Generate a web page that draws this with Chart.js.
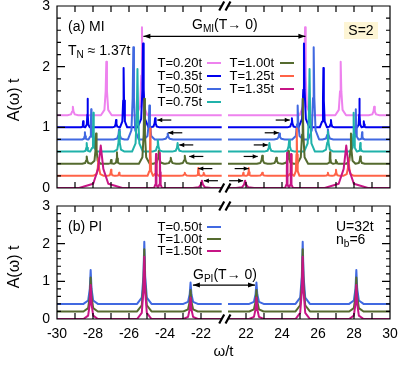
<!DOCTYPE html>
<html>
<head>
<meta charset="utf-8">
<script src="https://cdn.jsdelivr.net/npm/chart.js@4.4.0/dist/chart.umd.min.js"></script>
<style>
html, body { margin: 0; padding: 0; background: #fff; }
#wrap { position: relative; width: 412px; height: 366px; }
canvas { position: absolute; left: 0; }
#mi { top: 0; }
#pi { top: 196px; }
</style>
</head>
<body>
<div id="wrap">
<canvas id="mi" width="412" height="196"></canvas>
<canvas id="pi" width="412" height="170"></canvas>
</div>
<script>
var FONT = '"Liberation Sans", Arial, Helvetica, sans-serif';

// broken omega axis: left half -30 .. -20.85, right half 21 .. 30
var leftEnd = -20.85;
var rightStart = 21;
var xLabelsLeft = [-30, -28, -26, -24, -22];
var xLabelsRight = [22, 24, 26, 28, 30];
var yLabels = [0, 1, 2, 3];

// shape of one peak as seen in the picture (offset in foot half-widths, fraction of height)
var peakDx = [-1, -0.35, -0.12, 0, 0.12, 0.35, 1];
var peakFrac = [0, 0.1, 0.45, 1, 0.45, 0.1, 0];

// (a) MI, S=2 : spectra are symmetric, peaks given for omega > 0
var miLabels = ['T=0.20t', 'T=0.35t', 'T=0.50t', 'T=0.75t', 'T=1.00t', 'T=1.25t', 'T=1.35t'];
var miColors = ['#ee82ee', '#0000ee', '#4169e1', '#20b2aa', '#556b2f', '#ff6347', '#c71585'];
var miBase = [1.2, 1.0, 0.8, 0.6, 0.4, 0.2, 0.0];
var miPos = [
    [25.28, 27.26, 29.12],
    [24.55, 25.22, 26.3, 26.72, 28.3, 28.55],
    [23.85, 24.87, 25.76, 26.55, 28.1, 28.45],
    [23.3, 24.4, 25.53, 26.55, 27.98, 28.35],
    [22.9, 23.68, 24.35, 25.15, 26.67, 27.0, 27.83, 28.35],
    [21.85, 22.15, 22.9, 24.5, 24.82, 26.55, 27.0, 27.7],
    [21.95, 24.28, 24.5, 27.57]
];
var miTop = [
    [2.65, 2.08, 1.34],
    [1.15, 2.38, 1.98, 1.12, 1.47, 1.1],
    [0.9, 1.36, 2.32, 0.97, 1.3, 0.92],
    [0.74, 0.79, 1.96, 0.93, 1.24, 0.74],
    [0.53, 0.5, 0.61, 1.47, 0.59, 0.46, 0.9, 0.52],
    [0.25, 0.33, 0.25, 0.55, 0.98, 0.25, 0.3, 0.49],
    [0.12, 0.58, 0.56, 0.7]
];
var miWidth = [
    [0.3, 0.3, 0.3],
    [0.25, 0.3, 0.2, 0.2, 0.12, 0.12],
    [0.3, 0.3, 0.3, 0.3, 0.15, 0.15],
    [0.3, 0.3, 0.3, 0.3, 0.18, 0.18],
    [0.3, 0.3, 0.3, 0.3, 0.15, 0.15, 0.25, 0.25],
    [0.14, 0.14, 0.3, 0.15, 0.15, 0.2, 0.2, 0.3],
    [0.5, 0.11, 0.11, 1.2]
];
// small arrows marking the lowest peak of each curve (|omega| of the tip, height)
var miArrowTip = [24.43, 23.82, 23.21, 22.65, 22.15, 21.84];
var miArrowY = [1.12, 0.91, 0.71, 0.52, 0.32, 0.12];
var miGap = [-25.2, 25.3, 2.5];

// (b) PI
var piLabels = ['T=0.50t', 'T=1.00t', 'T=1.50t'];
var piColors = ['#4169e1', '#556b2f', '#c71585'];
var piBase = [0.4, 0.2, 0.0];
var piPos = [22.58, 25.15, 28.13];
var piTop = [
    [0.97, 2.05, 1.3],
    [0.77, 1.85, 1.1],
    [0.57, 1.65, 0.9]
];
var piWidth = [0.4, 0.4, 0.4];
var piGap = [-22.45, 22.5, 0.9];

var GAP = 0.35;
function toU(w) {
    if (w < 0) return w + 30;
    return w - rightStart + (leftEnd + 30) + GAP;
}
var uLeftEnd = toU(leftEnd), uRightStart = toU(rightStart), uMax = toU(30);

function addPeak(pts, base, p, top, w) {
    for (var j = 0; j < peakDx.length; j++) {
        pts.push({x: toU(p + peakDx[j] * w), y: base + (top - base) * peakFrac[j]});
    }
}

function buildLine(base, pos, top, wid) {
    var pts = [{x: toU(-30), y: base}];
    var i;
    for (i = pos.length - 1; i >= 0; i--) addPeak(pts, base, -pos[i], top[i], wid[i]);
    pts.push({x: uLeftEnd, y: base});
    pts.push({x: (uLeftEnd + uRightStart) / 2, y: null});
    pts.push({x: uRightStart, y: base});
    for (i = 0; i < pos.length; i++) addPeak(pts, base, pos[i], top[i], wid[i]);
    pts.push({x: uMax, y: base});
    return pts;
}

function makeDataset(pts, color, order) {
    return {
        data: pts,
        borderColor: color,
        borderWidth: 2,
        pointRadius: 0,
        tension: 0,
        fill: false,
        spanGaps: false,
        borderJoinStyle: 'round',
        order: order
    };
}

function labelForU(u) {
    var all = xLabelsLeft.concat(xLabelsRight);
    for (var i = 0; i < all.length; i++) {
        if (Math.abs(toU(all[i]) - u) < 1e-6) return String(all[i]);
    }
    return '';
}

// text with subscripts: parts = [[text, isSub], ...]
function richText(ctx, parts, x, y, size) {
    ctx.textAlign = 'left';
    ctx.textBaseline = 'middle';
    for (var i = 0; i < parts.length; i++) {
        var sub = parts[i][1];
        ctx.font = (sub ? size * 0.72 : size) + 'px ' + FONT;
        ctx.fillText(parts[i][0], x, sub ? y + 4 : y);
        x += ctx.measureText(parts[i][0]).width;
    }
}

function arrow(ctx, x1, y1, x2, y2, len, half, both) {
    ctx.beginPath();
    ctx.moveTo(x1, y1);
    ctx.lineTo(x2, y2);
    ctx.stroke();
    var heads = both ? [[x2, y2, x1, y1], [x1, y1, x2, y2]] : [[x2, y2, x1, y1]];
    heads.forEach(function (h) {
        var dir = h[0] > h[2] ? 1 : -1;
        ctx.beginPath();
        ctx.moveTo(h[0], h[1]);
        ctx.lineTo(h[0] - dir * len, h[1] - half);
        ctx.lineTo(h[0] - dir * len, h[1] + half);
        ctx.closePath();
        ctx.fill();
    });
}

function legendItem(ctx, label, color, textRight, y, s1, s2) {
    ctx.font = '13px ' + FONT;
    ctx.fillStyle = '#000';
    ctx.textAlign = 'right';
    ctx.textBaseline = 'middle';
    ctx.fillText(label, textRight, y);
    ctx.strokeStyle = color;
    ctx.lineWidth = 2;
    ctx.beginPath();
    ctx.moveTo(s1, y);
    ctx.lineTo(s2, y);
    ctx.stroke();
}

function framePlugin(yTitleY, extra) {
    return {
        id: 'frame',
        afterDraw: function (chart) {
            var ctx = chart.ctx, a = chart.chartArea;
            var xs = chart.scales.x, ys = chart.scales.y;
            var gl = xs.getPixelForValue(uLeftEnd), gr = xs.getPixelForValue(uRightStart);
            ctx.save();
            ctx.strokeStyle = '#000';
            ctx.fillStyle = '#000';
            ctx.lineWidth = 1.2;
            ctx.beginPath();
            ctx.moveTo(gl, a.top); ctx.lineTo(a.left, a.top); ctx.lineTo(a.left, a.bottom); ctx.lineTo(gl, a.bottom);
            ctx.moveTo(gr, a.top); ctx.lineTo(a.right, a.top); ctx.lineTo(a.right, a.bottom); ctx.lineTo(gr, a.bottom);
            var w, k, x, y, len;
            for (w = -30; w <= 30; w++) {
                if (w > -22 && w < 22) continue;
                x = xs.getPixelForValue(toU(w));
                ctx.moveTo(x, a.bottom); ctx.lineTo(x, a.bottom - 6);
                ctx.moveTo(x, a.top); ctx.lineTo(x, a.top + 6);
            }
            for (k = 0; k <= 15; k++) {
                y = ys.getPixelForValue(k * 0.2);
                len = k % 5 === 0 ? 8 : 4;
                ctx.moveTo(a.left, y); ctx.lineTo(a.left + len, y);
                ctx.moveTo(a.right, y); ctx.lineTo(a.right - len, y);
            }
            ctx.stroke();
            // axis break marks
            ctx.lineWidth = 2.2;
            ctx.beginPath();
            [gl, gr].forEach(function (bx) {
                [a.top, a.bottom].forEach(function (by) {
                    ctx.moveTo(bx - 2.5, by + 4.5);
                    ctx.lineTo(bx + 2.5, by - 4.5);
                });
            });
            ctx.stroke();
            // y title
            ctx.save();
            ctx.translate(15, yTitleY);
            ctx.rotate(-Math.PI / 2);
            ctx.font = '16px ' + FONT;
            ctx.textAlign = 'center';
            ctx.textBaseline = 'middle';
            ctx.fillText('A(\u03c9) t', 0, 0);
            ctx.restore();
            extra(ctx, xs, ys);
            ctx.restore();
        }
    };
}

function baseOptions(showX) {
    return {
        responsive: false,
        maintainAspectRatio: false,
        animation: false,
        events: [],
        layout: {padding: showX ? {left: 0, right: 22, top: 10, bottom: 0} : {left: 0, right: 22, top: 6, bottom: 8}},
        plugins: {legend: {display: false}, tooltip: {enabled: false}},
        scales: {
            x: {
                type: 'linear',
                min: 0,
                max: uMax,
                display: showX,
                grid: {display: false, drawTicks: false},
                border: {display: false},
                afterBuildTicks: function (s) {
                    s.ticks = xLabelsLeft.concat(xLabelsRight).map(function (v) { return {value: toU(v)}; });
                },
                afterFit: function (s) {
                    if (showX) s.height = 47;
                    s.paddingLeft = 0; s.paddingRight = 0;
                },
                ticks: {
                    autoSkip: false,
                    maxRotation: 0,
                    padding: 7,
                    color: '#000',
                    font: {family: FONT, size: 14},
                    callback: function (v) { return labelForU(v); }
                },
                title: {
                    display: showX,
                    text: '\u03c9/t',
                    color: '#000',
                    font: {family: FONT, size: 15},
                    padding: {top: 0, bottom: 5}
                }
            },
            y: {
                min: 0,
                max: 3,
                grid: {display: false, drawTicks: false},
                border: {display: false},
                afterBuildTicks: function (s) {
                    s.ticks = yLabels.map(function (v) { return {value: v}; });
                },
                afterFit: function (s) {
                    s.width = 57;
                    s.paddingTop = 0; s.paddingBottom = 0;
                },
                ticks: {
                    padding: 7,
                    color: '#000',
                    font: {family: FONT, size: 14}
                }
            }
        }
    };
}

// panel (a)
var miSets = miLabels.map(function (lab, i) {
    return makeDataset(buildLine(miBase[i], miPos[i], miTop[i], miWidth[i]), miColors[i], miLabels.length - i);
});

new Chart(document.getElementById('mi'), {
    type: 'line',
    data: {datasets: miSets},
    options: baseOptions(false),
    plugins: [framePlugin(100, function (ctx, xs, ys) {
        var i;
        for (i = 0; i < 4; i++) legendItem(ctx, miLabels[i], miColors[i], 202, 63 + i * 13, 207, 221);
        for (i = 4; i < 7; i++) legendItem(ctx, miLabels[i], miColors[i], 274, 63 + (i - 4) * 13, 280, 294);
        ctx.fillStyle = '#000';
        richText(ctx, [['(a) MI', false]], 68, 27, 14);
        richText(ctx, [['T', false], ['N', true], [' \u2248 1.37t', false]], 68, 51, 14);
        ctx.fillStyle = '#fdf5d5';
        ctx.fillRect(344, 22, 34, 17);
        ctx.fillStyle = '#000';
        ctx.font = '14px ' + FONT;
        ctx.textAlign = 'center';
        ctx.textBaseline = 'middle';
        ctx.fillText('S=2', 361, 31);
        // gap arrow
        ctx.strokeStyle = '#000';
        ctx.lineWidth = 1.2;
        var gy = ys.getPixelForValue(miGap[2]);
        arrow(ctx, xs.getPixelForValue(toU(miGap[0])), gy, xs.getPixelForValue(toU(miGap[1])), gy, 7, 2.5, true);
        richText(ctx, [['G', false], ['MI', true], ['(T\u2192 0)', false]], 192, 25, 14);
        // small arrows towards the outer peaks
        for (i = 0; i < miArrowTip.length; i++) {
            var ay = ys.getPixelForValue(miArrowY[i]);
            arrow(ctx, xs.getPixelForValue(toU(-miArrowTip[i] + 0.78)), ay, xs.getPixelForValue(toU(-miArrowTip[i])), ay, 5, 2.2, false);
            arrow(ctx, xs.getPixelForValue(toU(miArrowTip[i] - 0.78)), ay, xs.getPixelForValue(toU(miArrowTip[i])), ay, 5, 2.2, false);
        }
    })]
});

// panel (b)
var piSets = piLabels.map(function (lab, i) {
    return makeDataset(buildLine(piBase[i], piPos, piTop[i], piWidth.map(function () { return piWidth[i]; })), piColors[i], piLabels.length - i);
});

new Chart(document.getElementById('pi'), {
    type: 'line',
    data: {datasets: piSets},
    options: baseOptions(true),
    plugins: [framePlugin(71, function (ctx, xs, ys) {
        var i;
        for (i = 0; i < 3; i++) legendItem(ctx, piLabels[i], piColors[i], 202, 31 + i * 12, 207, 221);
        ctx.fillStyle = '#000';
        richText(ctx, [['(b) PI', false]], 68, 31, 14);
        richText(ctx, [['U=32t', false]], 336, 31, 14);
        richText(ctx, [['n', false], ['b', true], ['=6', false]], 336, 44, 14);
        ctx.strokeStyle = '#000';
        ctx.lineWidth = 1.2;
        var gy = ys.getPixelForValue(piGap[2]);
        arrow(ctx, xs.getPixelForValue(toU(piGap[0])), gy, xs.getPixelForValue(toU(piGap[1])), gy, 7, 2.5, true);
        richText(ctx, [['G', false], ['PI', true], ['(T\u2192 0)', false]], 193, 79, 14);
    })]
});
</script>
</body>
</html>
